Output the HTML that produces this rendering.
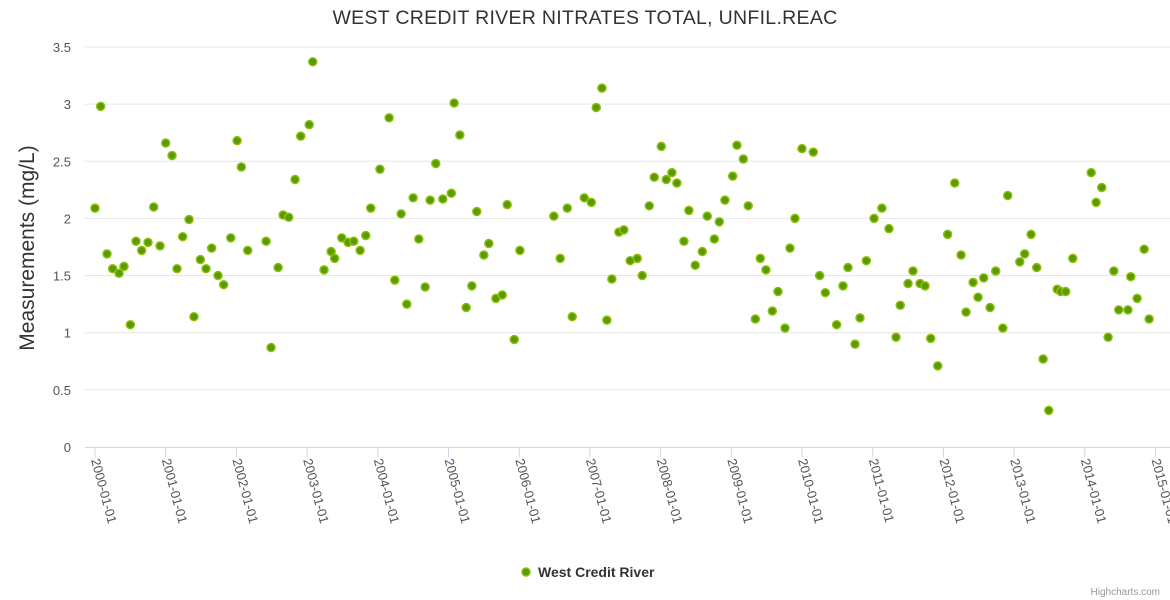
<!DOCTYPE html>
<html><head><meta charset="utf-8">
<style>
body{margin:0;background:#fff;}
svg{display:block;font-family:"Liberation Sans",sans-serif;}
</style></head>
<body>
<svg id="chart" width="1170" height="600">
<text x="585" y="24" text-anchor="middle" font-size="19.5" letter-spacing="0.3" fill="#333">WEST CREDIT RIVER NITRATES TOTAL, UNFIL.REAC</text>
<text transform="translate(34,248) rotate(-90)" text-anchor="middle" font-size="21" fill="#333">Measurements (mg/L)</text>
<g id="grid"></g><g id="xaxis"></g><g id="pts"></g>
<g>
<circle cx="526" cy="572" r="4" fill="#5a9a00" stroke="#8cc10a" stroke-width="1.5"/>
<text x="538" y="577" font-size="14" font-weight="bold" fill="#333">West Credit River</text>
</g>
<text x="1160" y="595" text-anchor="end" font-size="10" fill="#999">Highcharts.com</text>
</svg>
<script>
const yTicks=[0,0.5,1,1.5,2,2.5,3,3.5];
const xTickYears=[2000,2001,2002,2003,2004,2005,2006,2007,2008,2009,2010,2011,2012,2013,2014,2015];
const dates=[2000.00,2000.08,2000.17,2000.25,2000.34,2000.41,2000.50,2000.58,2000.66,2000.75,2000.83,2000.92,2001.00,2001.09,2001.16,2001.24,2001.33,2001.40,2001.49,2001.57,2001.65,2001.74,2001.82,2001.92,2002.01,2002.07,2002.16,2002.42,2002.49,2002.59,2002.66,2002.74,2002.83,2002.91,2003.03,2003.08,2003.24,2003.34,2003.39,2003.49,2003.58,2003.66,2003.75,2003.83,2003.90,2004.03,2004.16,2004.24,2004.33,2004.41,2004.50,2004.58,2004.67,2004.74,2004.82,2004.92,2005.04,2005.08,2005.16,2005.25,2005.33,2005.40,2005.50,2005.57,2005.67,2005.76,2005.83,2005.93,2006.01,2006.49,2006.58,2006.68,2006.75,2006.92,2007.02,2007.09,2007.17,2007.24,2007.31,2007.41,2007.48,2007.57,2007.67,2007.74,2007.84,2007.91,2008.01,2008.08,2008.16,2008.23,2008.33,2008.40,2008.49,2008.59,2008.66,2008.76,2008.83,2008.91,2009.02,2009.08,2009.17,2009.24,2009.34,2009.41,2009.49,2009.58,2009.66,2009.76,2009.83,2009.90,2010.00,2010.16,2010.25,2010.33,2010.49,2010.58,2010.65,2010.75,2010.82,2010.91,2011.02,2011.13,2011.23,2011.33,2011.39,2011.50,2011.57,2011.67,2011.74,2011.82,2011.92,2012.06,2012.16,2012.25,2012.32,2012.42,2012.49,2012.57,2012.66,2012.74,2012.84,2012.91,2013.08,2013.15,2013.24,2013.32,2013.41,2013.49,2013.61,2013.66,2013.73,2013.83,2014.09,2014.16,2014.24,2014.33,2014.41,2014.48,2014.61,2014.65,2014.74,2014.84,2014.91];
const values=[2.09,2.98,1.69,1.56,1.52,1.58,1.07,1.80,1.72,1.79,2.10,1.76,2.66,2.55,1.56,1.84,1.99,1.14,1.64,1.56,1.74,1.50,1.42,1.83,2.68,2.45,1.72,1.80,0.87,1.57,2.03,2.01,2.34,2.72,2.82,3.37,1.55,1.71,1.65,1.83,1.79,1.80,1.72,1.85,2.09,2.43,2.88,1.46,2.04,1.25,2.18,1.82,1.40,2.16,2.48,2.17,2.22,3.01,2.73,1.22,1.41,2.06,1.68,1.78,1.30,1.33,2.12,0.94,1.72,2.02,1.65,2.09,1.14,2.18,2.14,2.97,3.14,1.11,1.47,1.88,1.90,1.63,1.65,1.50,2.11,2.36,2.63,2.34,2.40,2.31,1.80,2.07,1.59,1.71,2.02,1.82,1.97,2.16,2.37,2.64,2.52,2.11,1.12,1.65,1.55,1.19,1.36,1.04,1.74,2.00,2.61,2.58,1.50,1.35,1.07,1.41,1.57,0.90,1.13,1.63,2.00,2.09,1.91,0.96,1.24,1.43,1.54,1.43,1.41,0.95,0.71,1.86,2.31,1.68,1.18,1.44,1.31,1.48,1.22,1.54,1.04,2.20,1.62,1.69,1.86,1.57,0.77,0.32,1.38,1.36,1.36,1.65,2.40,2.14,2.27,0.96,1.54,1.20,1.20,1.49,1.30,1.73,1.12];
const NS='http://www.w3.org/2000/svg';
const x0=95,pxYear=70.7,yBase=447,pxUnit=114.3,left=85,right=1170;
const X=t=>x0+(t-2000)*pxYear;
const Y=v=>yBase-v*pxUnit;
function mk(tag,attrs,parent){const e=document.createElementNS(NS,tag);for(const k in attrs)e.setAttribute(k,attrs[k]);parent.appendChild(e);return e;}
const grid=document.getElementById('grid');
yTicks.forEach(v=>{
  if(v>0){const l=mk('line',{x1:left,x2:right,y1:Y(v),y2:Y(v),stroke:'#e6e6e6','stroke-width':1},grid);
  
  }
  const t=mk('text',{x:71,y:Y(v)+5,'text-anchor':'end','font-size':13,fill:'#555'},grid);
  t.textContent=String(v);
  
  
});
const xa=document.getElementById('xaxis');
const al=mk('line',{x1:left,x2:right,y1:yBase+0.5,y2:yBase+0.5,stroke:'#ccd6eb','stroke-width':1},xa);


xTickYears.forEach(yr=>{
  const x=X(yr);
  const tk=mk('line',{x1:x,x2:x,y1:yBase,y2:yBase+10,stroke:'#ccd6eb','stroke-width':1},xa);
  
  
  const t=mk('text',{transform:`translate(${x-4},${yBase+13}) rotate(75)`,'font-size':13,fill:'#555'},xa);
  t.textContent=yr+'-01-01';
  
  
});
const pts=document.getElementById('pts');
dates.forEach((d,i)=>{
  const c=mk('circle',{cx:X(d),cy:Y(values[i]),r:4,fill:'#5a9a00',stroke:'#8cc10a','stroke-width':1.5},pts);
  
  
});
</script>
</body></html>
